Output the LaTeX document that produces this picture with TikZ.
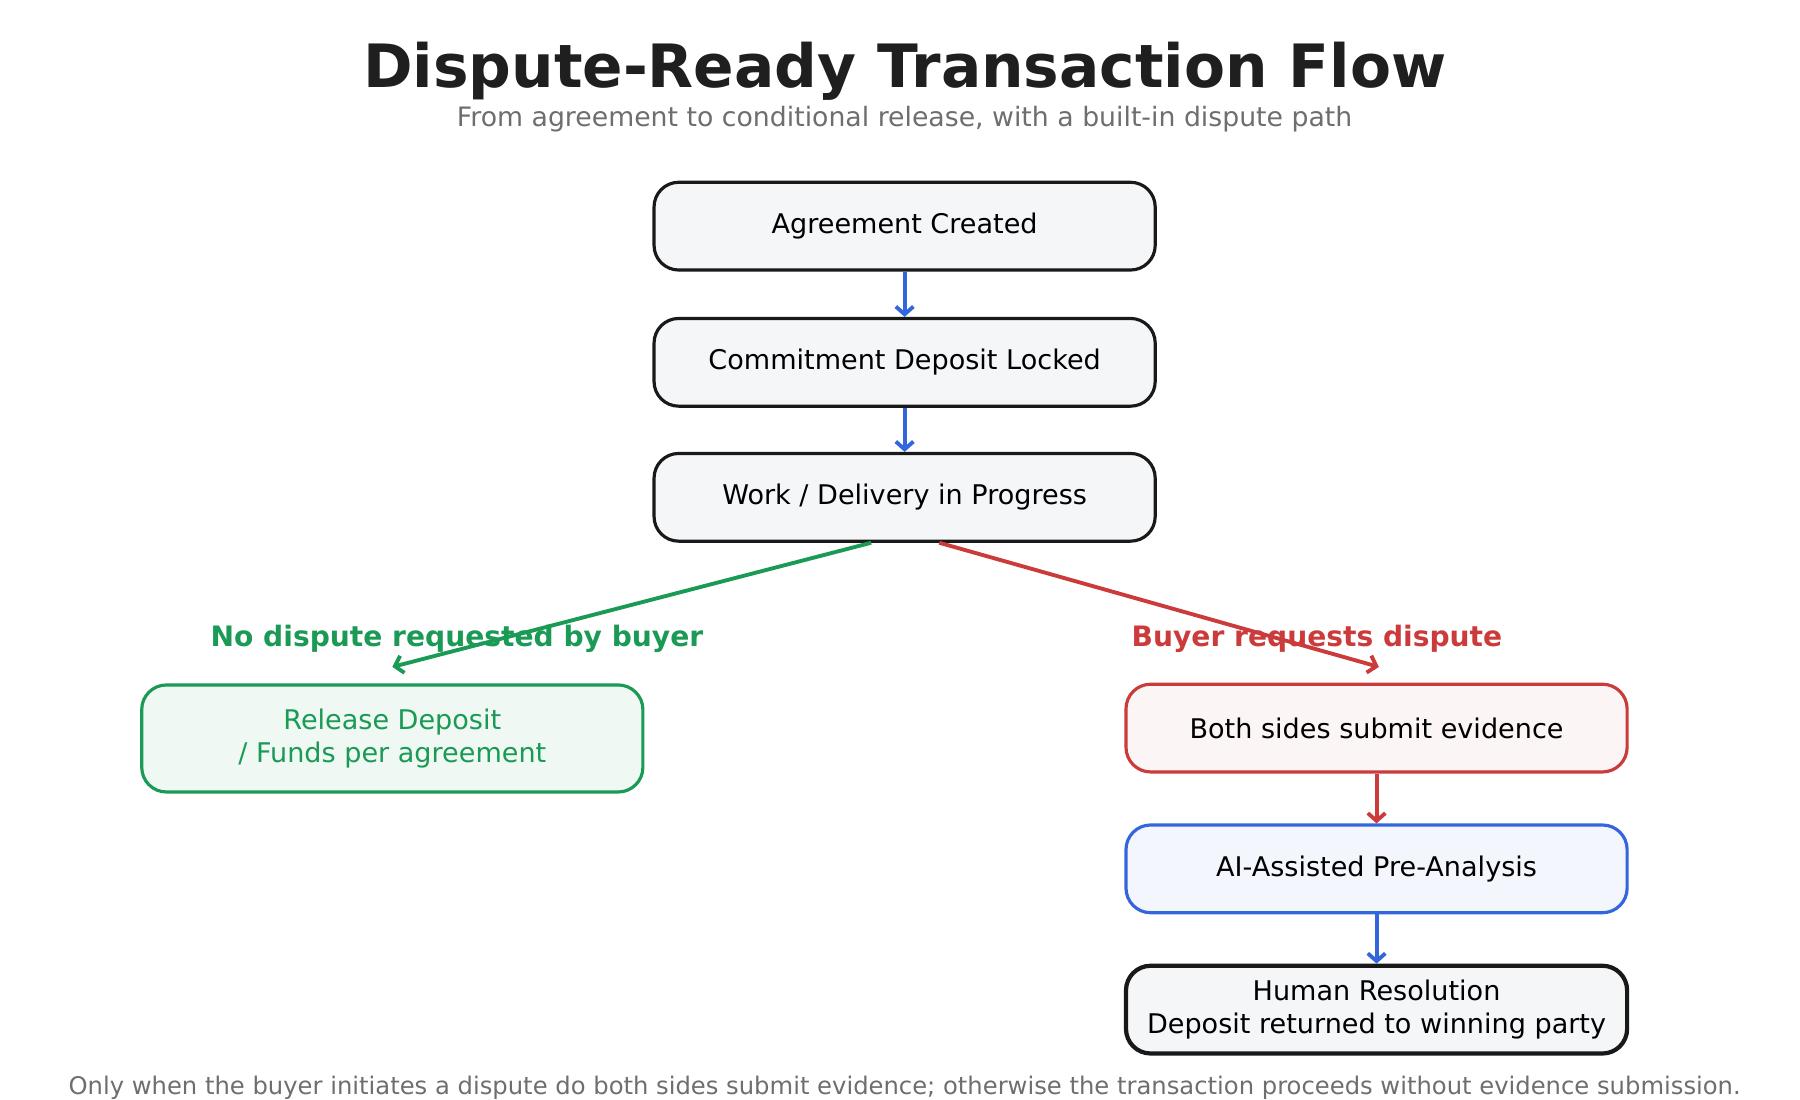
\documentclass[tikz,border=0pt]{standalone}
\usepackage{fontspec}
\setmainfont{DejaVu Sans}
\usetikzlibrary{positioning,arrows.meta}
\definecolor{flowblue}{HTML}{3366DD}
\definecolor{flowred}{HTML}{CC3B3B}
\definecolor{flowgreen}{HTML}{1A9A55}
\definecolor{boxgray}{HTML}{F5F6F8}
\definecolor{inkgray}{HTML}{6E6E6E}

\tikzset{
  stage/.style={draw=black!90, line width=0.9pt, rounded corners=7pt, fill=boxgray,
    minimum width=5.01cm, minimum height=0.877cm, align=center, font=\fontsize{7.7}{9.6}\selectfont},
  flow/.style={line width=1.1pt, -{Straight Barb[length=2.2pt,width=5pt]}},
}

\begin{document}
\begin{tikzpicture}[x=0.01154cm,y=-0.01154cm]
                \useasboundingbox (0,0) rectangle (1560,953);

                \node[font=\bfseries\fontsize{17}{20}\selectfont, text=black!88] (title) at (784,62) {Dispute-Ready Transaction Flow};
                \node[font=\fontsize{7.6}{9}\selectfont, text=inkgray] (sub) at (784,103) {From agreement to conditional release, with a built-in dispute path};

                \node[stage] (agree) at (784,196) {Agreement Created};
                \node[stage] (lock) at (784,314) {Commitment Deposit Locked};
                \node[stage] (work) at (784,431) {Work / Delivery in Progress};

                \node[stage, draw=flowgreen, fill=flowgreen!7, text=flowgreen, minimum height=1.07cm] (release) at (340,640) {Release Deposit\\/ Funds per agreement};
                \node[stage, draw=flowred, fill=flowred!5] (evid) at (1193,631) {Both sides submit evidence};
                \node[stage, draw=flowblue, fill=flowblue!6] (ai) at (1193,753) {AI-Assisted Pre-Analysis};
                \node[stage, line width=1.2pt] (human) at (1193,875) {Human Resolution\\Deposit returned to winning party};

                \draw[flow, flowblue] (agree) -- (lock);
                \draw[flow, flowblue] (lock) -- (work);
                \draw[flow, flowred] (evid) -- (ai);
                \draw[flow, flowblue] (ai) -- (human);

                \coordinate (gend) at (340,578);
                \coordinate (rend) at (1195,578);
                \draw[flow, flowgreen] (work.south) ++(-29,0) coordinate (gstart) -- (gend);
                \draw[flow, flowred] (work.south) ++(30,0) coordinate (rstart) -- (rend);

                \node[font=\bfseries\fontsize{8}{10}\selectfont, text=flowgreen] (nolab) at (396,554) {No dispute requested by buyer};
                \node[font=\bfseries\fontsize{8}{10}\selectfont, text=flowred, anchor=west] (yeslab) at (970,554) {Buyer requests dispute};

                \node[font=\fontsize{6.9}{8}\selectfont, text=inkgray] (foot) at (784,943) {Only when the buyer initiates a dispute do both sides submit evidence; otherwise the transaction proceeds without evidence submission.};
            \end{tikzpicture}
\end{document}
